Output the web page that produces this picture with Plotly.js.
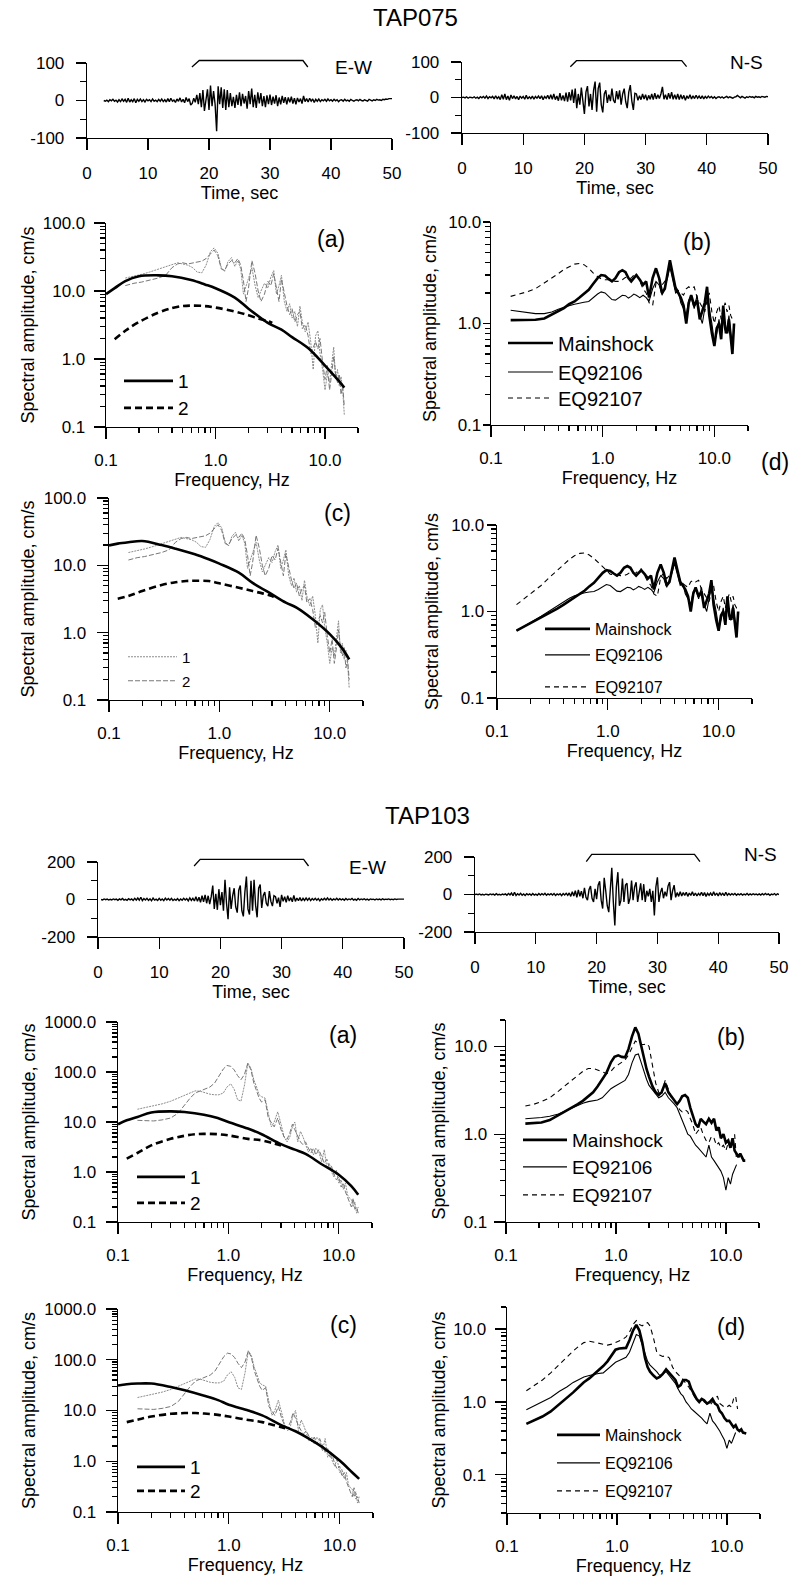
<!DOCTYPE html>
<html><head><meta charset="utf-8">
<script src="https://cdn.plot.ly/plotly-3.0.1.min.js"></script>
<style>html,body{margin:0;padding:0;background:#fff;}#chart{width:790px;height:1576px;}</style>
</head><body><div id="chart"></div>
<script>
// ================= DATA =================
// Time histories (velocity), sampled every 0.25 s
const dtSec = 0.25;
const ew075Start = 2.75;
const ew075 = [0,-2,1,-3,2,-1,3,-2,1,-4,
 2,-3,4,-2,3,-5,6,-4,2,-3,
 5,-6,3,-2,4,-3,2,-4,3,-1,
 2,-3,4,-2,1,-3,3,-2,4,-3,
 2,-4,5,-3,6,-2,1,-5,4,-2,
 7,-4,3,-6,8,-3,5,-12,-8,6,
 -5,15,-10,20,-18,28,-28,10,30,-25,
 40,-15,25,-10,-82,38,-10,35,-20,30,
 -25,28,-18,20,-15,10,-20,15,-12,22,
 -15,18,-8,12,-22,25,-10,32,-18,15,
 -20,22,-8,20,-15,12,-18,14,-10,16,
 -12,10,-8,14,-15,8,-10,12,-6,9,
 -10,8,-5,10,-8,6,-10,7,-4,5,
 -8,12,-3,5,-4,6,-2,4,-5,3,
 -2,4,-3,2,-1,3,-2,4,-1,2,
 -2,3,-1,2,-3,1,2,-2,3,-1,
 1,-2,3,0,-2,1,2,-1,3,0,
 -1,2,1,-2,3,1,-1,2,0,3,
 1,2,0,3,2,4,3,5,4,5];
const ns075Start = 0;
const ns075 = [0,1,-1,2,-2,1,0,-1,2,-2,
 1,-3,2,-1,3,-2,4,-3,2,-1,
 3,-4,5,-3,2,-6,8,-5,10,-6,
 4,-8,7,-3,5,-4,3,-6,4,-2,
 3,-5,6,-4,2,-3,4,-5,3,-2,
 4,-3,5,-6,3,-2,6,-4,8,-5,
 10,-6,4,-9,12,-8,6,-10,14,-12,
 15,-8,22,-15,25,-30,10,-20,28,-18,
 -46,15,32,-25,10,-35,20,45,-40,25,
 42,-20,-42,10,20,-15,8,-10,25,-8,
 -15,18,-5,20,-20,10,25,-12,-30,15,
 35,-10,-35,12,10,-8,5,-6,10,-4,
 8,-8,6,-5,10,-6,12,-4,8,-3,
 10,30,-5,8,-6,12,-3,15,-5,8,
 -5,10,-6,8,-4,6,-8,5,-3,8,
 -4,5,-3,6,-2,4,-3,5,-4,3,
 -2,4,-1,3,-2,2,-3,1,2,-1,
 2,-2,1,3,-1,2,0,-2,1,2,
 6,2,-1,3,1,-2,2,0,3,1,
 2,-1,3,1,2,0,3,2,1,3,
 2];
const ew103Start = 0.5;
const ew103 = [0,-2,3,-1,2,-3,1,-2,3,-1,
 2,-4,3,-2,5,-3,1,-4,4,-2,
 3,-5,6,-3,8,-4,12,-6,5,-3,
 6,-5,4,-7,8,-3,2,-5,6,-4,
 3,-6,7,-3,5,-4,6,-5,2,-4,
 5,-6,3,-4,6,-3,5,-7,8,-5,
 6,-8,15,-10,12,-15,20,-12,25,-20,
 20,-25,15,74,-50,30,-55,55,-30,40,
 -60,105,-20,-105,65,-50,20,60,-40,-70,
 50,75,-60,-90,40,122,-50,-80,100,-60,
 105,-30,-95,60,80,-45,20,40,-20,-35,
 45,-10,-35,20,15,-20,10,-40,25,-10,
 15,-15,20,-8,10,-12,22,-10,8,-6,
 10,-8,6,-5,8,-4,7,-6,5,-3,
 6,-4,5,-7,4,-3,6,-2,8,-3,
 5,-4,3,-2,6,-3,4,-2,3,-4,
 5,-2,3,-1,6,-3,2,-4,5,-2,
 3,-1,4,-2,2,-3,3,0,2,-2,
 3,-1,2,-2,4,-1,2,0,3,-1,
 2,-1,3,0,2,1,3,1,2];
const ns103Start = 0;
const ns103 = [0,2,-1,3,-2,1,-3,2,0,-2,
 3,-1,2,-3,4,-2,1,-3,2,-1,
 3,-4,5,-2,8,-6,12,-5,4,-3,
 6,-4,3,-5,4,-2,3,-4,5,-3,
 2,-4,5,-3,4,-2,6,-4,3,-2,
 4,-3,5,-5,3,-2,4,-6,5,-3,
 6,-4,8,-10,15,-8,20,-15,25,-10,
 18,-20,35,-15,-30,25,45,-20,-40,30,
 -25,50,70,-30,-75,89,20,-60,-94,60,
 142,-40,-165,40,119,-60,-30,85,-40,50,
 60,-50,-20,75,-30,40,65,-40,10,60,
 -30,55,-40,20,-10,30,-40,20,-112,40,
 92,-40,10,35,-20,15,-10,45,66,-30,
 20,50,-15,10,-10,15,-8,10,-5,12,
 -10,8,-5,15,-6,8,-8,6,-4,12,
 -6,10,-10,6,-4,8,-6,15,-5,8,
 -8,10,-3,6,-6,12,-4,5,-3,4,
 -2,5,-4,3,-2,4,-3,2,-2,5,
 -3,3,-2,4,-1,2,-2,3,-3,4,
 -2,6,-1,3,-4,2,-1,5,-3,4,
 0];
// analysed-window brackets (s): start, plateau start, plateau end, end
const brk075EW = [17.2, 18.4, 35.4, 36.2];
const brk075NS = [17.7, 18.7, 35.9, 36.7];
const brk103EW = [15.7, 16.7, 33.6, 34.4];
const brk103NS = [18.3, 19.2, 36.1, 37.0];
const brkLevel = [0, 1, 1, 0];

// Frequencies (Hz) of observed spectra
const fN = [0.15,0.18,0.21,0.25,0.3,
 0.35,0.4,0.45,0.5,0.56,
 0.62,0.68,0.75,0.82,0.9,
 0.97,1.05,1.13,1.21,1.3,
 1.4,1.5,1.6,1.7,1.8,
 1.9,2.0,2.15,2.3,2.45,
 2.6,2.8,3.0,3.2,3.4,
 3.6,3.8,4.0,4.25,4.5,
 4.75,5.0,5.3,5.6,5.9,
 6.2,6.6,7.0,7.4,7.8,
 8.2,8.6,9.0,9.5,10.0,
 10.5,11.0,11.5,12.0,12.5,
 13.0,13.5,14.0,14.5,15.0];
// Frequencies for smooth model curves
const fS = [0.1,0.12,0.15,0.2,0.3,0.4,0.6,0.8,1.0,1.5,2.0,3.0,4.0,5.0,7.0,10.0,13.0,15.0];
const fD = [0.12,0.15,0.2,0.3,0.4,0.5,0.6,0.8,1.0,1.5,2.0,2.5,3.0,3.3];

// ---- TAP075 ----
const obs075_1 = [15.5,16.5,17.5,19,21,
 23,25,26,25,24,
 22,19,18.5,24,38,
 43,36,22,19.5,27,
 31,23,28,21,9,
 12,15,22,12,8,
 10,13,11,16,20,
 9,12,17,7,5,
 6.5,4,5,3,6,
 3.5,2.5,3.5,1.8,0.7,
 2.2,2.6,1.2,0.7,0.35,
 0.6,0.45,0.8,1.5,0.5,
 0.7,0.4,0.55,0.35,0.15];
const obs075_2 = [12,13,13.5,14.5,15.5,
 17,22,25,26,25,
 26,27,27.5,30,35,
 40,33,21,20,25,
 28,26,30,24,14,
 7,11,28,18,10,
 7,9,14,12,18,
 11,7,15,9,6,
 4.5,5.5,3.5,4.5,5,
 2.8,3.2,2.2,1.2,1.5,
 1.8,1.4,2.0,0.9,0.5,
 0.8,0.35,0.6,1.1,0.6,
 0.45,0.6,0.3,0.4,0.2];
const model075a_1 = [9,11,14,16.5,17,16.5,14.5,12.5,11,8,5.5,3.4,2.7,2.1,1.45,0.8,0.5,0.38];
const model075a_2 = [1.95,2.6,3.5,4.8,5.6,6.0,6.1,6.0,5.7,5.0,4.4,3.9,3.6,3.4];
const model075c_1 = [19.8,21,22,23,20,17.7,14.6,12.3,10.6,7.8,5.5,3.7,2.8,2.35,1.58,0.95,0.58,0.4];
const model075c_2 = [3.2,3.5,4.15,5.1,5.6,5.85,5.9,5.85,5.4,4.65,4.15,3.8,3.5,3.2];
const main075b = [1.08,1.08,1.08,1.09,1.12,
 1.22,1.32,1.42,1.55,1.65,
 1.8,1.95,2.15,2.45,2.8,
 3.0,2.95,2.75,2.6,2.8,
 3.2,3.35,3.2,2.8,2.6,
 2.8,3.0,2.7,2.4,2.6,
 1.8,2.8,3.5,2.8,2.0,
 2.2,3.2,4.2,3.0,2.2,
 2.0,1.8,1.5,1.0,1.6,
 1.9,1.5,1.7,1.1,1.3,
 1.6,2.3,1.2,0.8,0.6,
 0.9,1.0,0.7,1.5,0.9,
 0.8,1.1,0.7,0.5,1.0];
const eq106_075b = [1.35,1.32,1.28,1.25,1.25,
 1.3,1.38,1.45,1.5,1.55,
 1.6,1.62,1.65,1.8,1.95,
 2.05,2.0,1.85,1.72,1.7,
 1.8,1.9,1.88,1.78,1.85,
 1.95,1.9,1.8,1.9,1.8,
 1.65,2.2,2.6,2.4,1.9,
 2.3,2.8,3.6,2.6,2.0,
 2.1,1.6,1.4,1.2,1.7,
 1.8,1.4,1.9,1.2,1.0,
 1.4,2.0,1.4,1.0,0.65,
 0.8,1.1,0.75,1.3,0.8,
 0.9,1.2,0.8,0.6,0.9];
const eq107_075b = [1.85,1.95,2.05,2.2,2.5,
 2.8,3.1,3.4,3.6,3.85,
 3.9,3.8,3.5,3.15,2.9,
 2.75,2.7,2.7,2.65,2.6,
 2.6,2.7,2.85,2.75,2.8,
 3.0,3.1,2.6,2.2,2.0,
 1.6,1.5,2.5,2.8,2.4,
 2.6,3.0,3.8,2.8,2.3,
 2.1,2.0,1.9,2.2,2.3,
 2.2,2.3,1.8,1.6,1.4,
 1.3,1.7,2.0,1.3,1.0,
 1.3,1.5,1.1,1.4,1.6,
 1.3,1.5,1.2,1.1,1.1];
// (d) differs from (b) only below ~1 Hz (first 16 frequencies)
const main075dLow = [0.6,0.68,0.76,0.85,0.95,1.08,1.2,1.32,1.45,1.6,1.75,1.95,2.15,2.45,2.8,3.0];
const eq106_075dLow = [0.6,0.68,0.77,0.88,1.02,1.15,1.3,1.42,1.52,1.6,1.65,1.68,1.7,1.8,1.95,2.05];
const eq107_075dLow = [1.2,1.45,1.7,2.0,2.5,3.0,3.5,4.0,4.4,4.7,4.75,4.5,4.1,3.7,3.3,3.0];

// ---- TAP103 ----
const obs103_1 = [18,19.5,21,23,26,
 30,33,37,42,41,
 38,36,35,35,38,
 50,58,45,28,26,
 55,150,120,70,50,
 35,32,30,15,8,
 10,16,9,5,4,
 5,8,10,4,6.5,
 5,3.5,2.5,3,2.2,
 3,2.5,1.6,2.8,1.2,
 1.5,1.0,0.8,1.1,0.6,
 0.7,0.45,0.6,0.35,0.3,
 0.28,0.2,0.25,0.15,0.2];
const obs103_2 = [10.8,10.5,10.5,11,12,
 15,22,30,38,42,
 45,50,60,85,115,
 135,130,110,85,70,
 90,150,110,60,40,
 30,25,28,12,10,
 8,12,7,5,4.5,
 6,9,7,5,4,
 3.5,4,3,2.4,3,
 2.2,2.8,2,1.5,1.8,
 1.2,1.3,0.9,0.7,0.8,
 0.5,0.6,0.4,0.3,0.25,
 0.2,0.3,0.18,0.2,0.15];
const model103a_1 = [9.0,10.8,12.6,15.5,16.3,15.8,14.0,12,10,7.4,5.7,3.6,2.8,2.3,1.43,0.88,0.52,0.35];
const model103a_2 = [1.85,2.4,3.4,4.6,5.3,5.7,5.8,5.7,5.4,4.6,4.3,3.8,3.4,null];
const model103c_1 = [31,33,34,34,29,25,19.5,16,13,10,8,5.1,3.9,3.0,1.9,1.03,0.6,0.45];
const model103c_2 = [5.9,6.6,7.6,8.6,8.9,8.9,8.7,8.2,7.6,6.5,5.9,5.2,4.7,4.4];
const main103b = [1.32,1.33,1.36,1.45,1.65,
 1.8,2.0,2.2,2.4,2.7,
 3.0,3.5,4.2,5.0,6.6,
 7.6,7.9,7.6,7.5,9.3,
 13,16.5,14,10,7,
 5.5,4.5,3.5,3.0,2.8,
 3.0,3.8,3.0,2.7,2.4,
 2.2,2.4,2.7,2.8,2.6,
 2.0,1.6,1.3,1.2,1.5,
 1.4,1.3,1.5,1.35,1.5,
 1.1,1.2,0.9,1.0,0.8,
 0.85,0.7,0.9,0.65,0.6,
 0.55,0.6,0.55,0.5,0.5];
const eq106_103b = [1.5,1.52,1.55,1.6,1.7,
 1.85,2.0,2.15,2.25,2.35,
 2.4,2.45,2.6,2.9,3.3,
 3.5,3.7,3.9,4.1,4.8,
 6.5,8.0,8.2,6.5,5.0,
 4.2,3.6,3.2,2.8,2.6,
 2.7,3.0,2.6,2.4,2.2,
 2.0,1.7,1.5,1.2,1.0,
 0.95,0.85,0.75,0.7,0.65,
 0.6,0.55,0.75,0.55,0.5,
 0.45,0.42,0.38,0.32,0.23,
 0.32,0.27,0.35,0.4,0.45,
 null,null,null,null,null];
const eq107_103b = [2.1,2.2,2.35,2.6,3.1,
 3.6,4.2,4.7,5.2,5.6,
 5.6,5.4,5.1,4.9,5.2,
 5.8,6.2,6.6,7.0,8.0,
 9.5,11.5,11.0,10.5,10.5,
 10.8,10.0,6.0,3.8,3.0,
 2.8,4.1,3.2,2.6,2.4,
 2.2,1.9,1.8,1.9,1.8,
 1.5,1.3,1.0,1.1,1.2,
 1.0,0.85,0.8,0.95,0.9,
 0.75,0.8,0.7,0.75,0.65,
 0.8,0.7,0.85,1.0,0.5,
 null,null,null,null,null];
const main103d = [0.5,0.56,0.63,0.74,0.93,
 1.12,1.35,1.6,1.86,2.1,
 2.4,2.7,3.1,3.6,4.4,
 5.2,5.4,5.5,5.5,7.0,
 9.5,11.4,9.5,6.5,4.0,
 3.0,2.6,2.3,2.1,2.2,
 2.4,2.8,2.5,2.2,2.0,
 1.6,1.7,2.0,2.0,1.9,
 1.5,1.3,1.1,1.0,1.1,
 1.05,0.95,1.0,1.1,0.95,
 0.9,0.75,0.7,0.6,0.55,
 0.55,0.5,0.45,0.48,0.42,
 0.4,0.42,0.38,0.37,0.37];
const eq106_103d = [0.78,0.9,1.0,1.15,1.4,
 1.6,1.85,2.05,2.2,2.3,
 2.4,2.45,2.5,2.8,3.2,
 3.5,3.7,3.9,4.1,4.8,
 6.5,8.4,8.0,6.0,4.5,
 3.6,3.2,2.9,2.6,2.3,
 2.4,2.6,2.3,2.0,1.8,
 1.5,1.3,1.2,1.0,0.9,
 0.8,0.75,0.7,0.65,0.6,
 0.55,0.5,0.7,0.55,0.5,
 0.45,0.4,0.35,0.3,0.23,
 0.3,0.27,0.33,0.38,null,
 null,null,null,null,null];
const eq107_103d = [1.42,1.7,2.0,2.5,3.3,
 4.1,5.0,5.8,6.5,6.8,
 6.6,6.3,6.1,6.0,6.2,
 6.5,6.8,7.2,7.8,9.0,
 11.5,13.0,11.5,11.0,12.0,
 12.2,11.0,7.5,4.8,4.4,
 4.2,4.3,4.0,3.0,2.6,
 2.4,2.2,2.0,1.8,1.6,
 1.4,1.2,1.05,1.0,1.1,
 1.0,0.95,0.9,1.0,1.1,
 1.2,0.95,0.9,0.85,0.85,
 0.9,0.85,1.1,1.2,0.8,
 null,null,null,null,null];

// Legend labels
const modelNames = ['1','2'];
const eventNames = ['Mainshock','EQ92106','EQ92107'];

// ================= CHART =================
const W = 790, H = 1576;
const FONT = '"Liberation Sans", Arial, Helvetica, sans-serif';
const xd = (a,b) => [a/W, b/W];
const yd = (t,b) => [1-b/H, 1-t/H];
const ax = n => (n===1 ? '' : String(n));

const layout = {
  width: W, height: H, margin: {l:0,r:0,t:0,b:0},
  paper_bgcolor: '#fff', plot_bgcolor: 'rgba(0,0,0,0)',
  font: {family: FONT, color: '#000', size: 17},
  showlegend: true, hovermode: false, dragmode: false,
  annotations: []
};
const traces = [];

const baseAxis = {
  showline: true, linecolor: '#000', linewidth: 1.3, mirror: false,
  ticks: 'outside', tickcolor: '#000', tickwidth: 1.2,
  showgrid: false, zeroline: false, fixedrange: true,
  tickfont: {family: FONT, size: 17, color: '#000'}
};
// tick-only axis pair sharing a panel's domain (draws the long major ticks)
function tickOnly(k, xdom, ydom, xo, yo) {
  const common = {showline:false, showgrid:false, zeroline:false, showticklabels:false, fixedrange:true,
    ticks:'outside', tickcolor:'#000', tickwidth:1.2};
  layout['xaxis'+k] = Object.assign({}, common, {domain:xdom, anchor:'y'+k}, xo);
  layout['yaxis'+k] = Object.assign({}, common, {domain:ydom, anchor:'x'+k}, yo);
  traces.push({type:'scatter', mode:'lines', x:[], y:[], xaxis:'x'+k, yaxis:'y'+k, showlegend:false, hoverinfo:'skip'});
}

// ---- time-history panels ----
const tsPanels = [
  {n:1, x:[87,392], y:[63,138], lim:100, y0:ew075Start, v:ew075},
  {n:2, x:[462,768], y:[62,133], lim:100, y0:ns075Start, v:ns075},
  {n:3, x:[98,404], y:[862,937], lim:200, y0:ew103Start, v:ew103},
  {n:4, x:[475,779], y:[857,932], lim:200, y0:ns103Start, v:ns103}
];
tsPanels.forEach(p => {
  const xdom = xd(p.x[0],p.x[1]), ydom = yd(p.y[0],p.y[1]);
  layout['xaxis'+ax(p.n)] = Object.assign({}, baseAxis, {
    domain: xdom, anchor: 'y'+ax(p.n), range: [0,50],
    tickmode: 'linear', tick0: 0, dtick: 10, ticklen: 11, ticklabelstandoff: 8,
    title: {text: 'Time, sec', font: {family: FONT, size: 18, color:'#000'}, standoff: 3}
  });
  const L = p.lim;
  layout['yaxis'+ax(p.n)] = Object.assign({}, baseAxis, {
    domain: ydom, anchor: 'x'+ax(p.n), range: [-L, L],
    tickmode: 'array', tickvals: [-L,-L/2,0,L/2,L], ticktext: ['-'+L,'','0','',String(L)],
    ticklen: 6, ticklabelstandoff: 12
  });
  traces.push({type:'scatter', mode:'lines', x0: p.y0, dx: dtSec, y: p.v,
    xaxis:'x'+ax(p.n), yaxis:'y'+ax(p.n), line:{color:'#000', width:1.4}, showlegend:false, hoverinfo:'skip'});
  tickOnly(16+p.n, xdom, ydom, {range:[0,50], ticks:''},
    {range:[-L,L], tickmode:'array', tickvals:[-L,0,L], ticklen:10});
});

// ---- window brackets (own invisible axes) ----
const brPanels = [
  {n:13, x:[87,392], t:60.5, b:67, v:brk075EW},
  {n:14, x:[462,768], t:60.7, b:66.7, v:brk075NS},
  {n:15, x:[98,404], t:859.3, b:866, v:brk103EW},
  {n:16, x:[475,779], t:854.3, b:861.7, v:brk103NS}
];
brPanels.forEach(p => {
  const u = p.b - p.t;
  layout['xaxis'+p.n] = {domain: xd(p.x[0],p.x[1]), anchor:'y'+p.n, range:[0,50], visible:false, fixedrange:true};
  layout['yaxis'+p.n] = {domain: yd(p.t-0.3*u, p.b+0.3*u), anchor:'x'+p.n, range:[-0.3,1.3], visible:false, fixedrange:true};
  traces.push({type:'scatter', mode:'lines', x:p.v, y:brkLevel, xaxis:'x'+p.n, yaxis:'y'+p.n,
    line:{color:'#000', width:1.3}, showlegend:false, hoverinfo:'skip'});
});

// ---- spectral panels ----
function decades(lo, hi){ const out=[]; for(let e=-3;e<=4;e++){const v=Math.pow(10,e); if(v>=lo*0.999 && v<=hi*1.001) out.push(+v.toPrecision(3));} return out; }
function allLogTicks(lo, hi){ const out=[]; for(let e=-3;e<=4;e++) for(let m=1;m<=9;m++){ const v=+(m*Math.pow(10,e)).toPrecision(3); if(v>=lo*0.999 && v<=hi*1.001) out.push(v);} return out; }
function fmt(v){ return v>=1 ? v.toFixed(1) : String(v); }
function logLabels(vals){ const maj = new Set(decades(1e-3,1e4)); return vals.map(v => maj.has(v) ? fmt(v) : ''); }

// yGap: distance axis -> label edge; yMaj: major tick length; yts: title standoff
const spPanels = [
  {n:5,  x:[106,358], y:[223,427],  yr:[0.1,100],  yGap:20, yMaj:11, yts:3},
  {n:6,  x:[491,748], y:[222,425],  yr:[0.1,10],   yGap:9,  yMaj:7,  yts:7},
  {n:7,  x:[109,363], y:[498,700],  yr:[0.1,100],  yGap:22, yMaj:11, yts:4},
  {n:8,  x:[497,752], y:[525,698],  yr:[0.1,10],   yGap:12, yMaj:9,  yts:8},
  {n:9,  x:[118,372], y:[1022,1222],yr:[0.1,1000], yGap:21, yMaj:11, yts:4},
  {n:10, x:[506,759], y:[1020,1222],yr:[0.1,20],   yGap:18, yMaj:11, yts:4},
  {n:11, x:[118,373], y:[1309,1512],yr:[0.1,1000], yGap:21, yMaj:11, yts:4},
  {n:12, x:[507,760], y:[1307,1513],yr:[0.03,20],  yGap:20, yMaj:11, yts:3}
];
spPanels.forEach(p => {
  const xdom = xd(p.x[0],p.x[1]), ydom = yd(p.y[0],p.y[1]);
  const xr = [-1, Math.log10(20)], yr = [Math.log10(p.yr[0]), Math.log10(p.yr[1])];
  const xt = allLogTicks(0.1,20), yt = allLogTicks(p.yr[0], p.yr[1]);
  layout['xaxis'+p.n] = Object.assign({}, baseAxis, {
    domain: xdom, anchor:'y'+p.n, type:'log', range: xr,
    tickmode:'array', tickvals: xt, ticktext: logLabels(xt), ticklen:5, ticklabelstandoff:12,
    title: {text:'Frequency, Hz', font:{family:FONT, size:18, color:'#000'}, standoff: 4}
  });
  layout['yaxis'+p.n] = Object.assign({}, baseAxis, {
    domain: ydom, anchor:'x'+p.n, type:'log', range: yr,
    tickmode:'array', tickvals: yt, ticktext: logLabels(yt), ticklen:5, ticklabelstandoff: Math.max(0, p.yGap-9),
    title: {text:'Spectral amplitude, cm/s', font:{family:FONT, size:18, color:'#000'}, standoff: p.yts}
  });
  tickOnly(16+p.n, xdom, ydom,
    {type:'log', range:xr, tickmode:'array', tickvals: decades(0.1,20), ticklen:11},
    {type:'log', range:yr, tickmode:'array', tickvals: decades(p.yr[0],p.yr[1]), ticklen:p.yMaj});
});

const THICK = {color:'#000', width:2.6};
const THICKDASH = {color:'#000', width:2.6, dash:'7px,4px'};
const THIN = {color:'#000', width:1.1};
const THINDASH = {color:'#000', width:1.1, dash:'5px,4px'};
const GRAY1 = {color:'#8c8c8c', width:1, dash:'2px,1px'};
const GRAY2 = {color:'#777', width:1, dash:'5px,2px'};

let legCount = 0;
function line(n, x, y, style, name, opts) {
  const t = {type:'scatter', mode:'lines', x:x, y:y, xaxis:'x'+n, yaxis:'y'+n, line:Object.assign({}, style),
    hoverinfo:'skip', showlegend:false, connectgaps:false};
  if (opts && opts.spline) t.line.shape = 'spline';
  if (name !== null) { legCount++; t.showlegend = true; t.name = name; t.legend = 'legend'+ax(legCount); }
  traces.push(t);
}
const d075 = (low, full) => low.concat(full.slice(low.length));

// top (a)
line(5, fN, obs075_1, GRAY1, null); line(5, fN, obs075_2, GRAY2, null);
line(5, fS, model075a_1, THICK, modelNames[0], {spline:true});
line(5, fD, model075a_2, THICKDASH, modelNames[1], {spline:true});
// top (b)
line(6, fN, main075b, THICK, eventNames[0]);
line(6, fN, eq106_075b, THIN, eventNames[1]);
line(6, fN, eq107_075b, THINDASH, eventNames[2]);
// top (c)
line(7, fN, obs075_1, GRAY1, modelNames[0]); line(7, fN, obs075_2, GRAY2, modelNames[1]);
line(7, fS, model075c_1, THICK, null, {spline:true});
line(7, fD, model075c_2, THICKDASH, null, {spline:true});
// top (d)
line(8, fN, d075(main075dLow, main075b), THICK, eventNames[0]);
line(8, fN, d075(eq106_075dLow, eq106_075b), THIN, eventNames[1]);
line(8, fN, d075(eq107_075dLow, eq107_075b), THINDASH, eventNames[2]);
// bottom (a)
line(9, fN, obs103_1, GRAY1, null); line(9, fN, obs103_2, GRAY2, null);
line(9, fS, model103a_1, THICK, modelNames[0], {spline:true});
line(9, fD, model103a_2, THICKDASH, modelNames[1], {spline:true});
// bottom (b)
line(10, fN, main103b, THICK, eventNames[0]);
line(10, fN, eq106_103b, THIN, eventNames[1]);
line(10, fN, eq107_103b, THINDASH, eventNames[2]);
// bottom (c)
line(11, fN, obs103_1, GRAY1, null); line(11, fN, obs103_2, GRAY2, null);
line(11, fS, model103c_1, THICK, modelNames[0], {spline:true});
line(11, fD, model103c_2, THICKDASH, modelNames[1], {spline:true});
// bottom (d)
line(12, fN, main103d, THICK, eventNames[0]);
line(12, fN, eq106_103d, THIN, eventNames[1]);
line(12, fN, eq107_103d, THINDASH, eventNames[2]);

// legend placement: [line start x, centre y, font size, line length]
const legendPos = [
 [124,381,19,49],[124,408,19,49],
 [508,343,20,45],[508,372,20,45],[508,398,20,45],
 [128,657,15,49],[128,681,15,49],
 [545,629,16,45],[545,655,16,45],[545,687,16,45],
 [137,1177,19,48],[137,1203,19,48],
 [523,1140,19,44],[523,1167,19,44],[523,1195,19,44],
 [137,1467,19,48],[137,1491,19,48],
 [557,1435,16,43],[557,1463,16,43],[557,1491,16,43]
];
legendPos.forEach((p,i) => {
  layout['legend'+ax(i+1)] = {x:(p[0]-5)/W, y:1-p[1]/H, xref:'paper', yref:'paper', xanchor:'left', yanchor:'middle',
    bgcolor:'rgba(0,0,0,0)', borderwidth:0, font:{family:FONT, size:p[2], color:'#000'}, itemwidth:p[3],
    tracegroupgap:0, orientation:'v'};
});

// text labels
function note(text, px, py, size) {
  layout.annotations.push({text:text, x:px/W, y:1-py/H, xref:'paper', yref:'paper', xanchor:'center', yanchor:'middle',
    showarrow:false, font:{family:FONT, size:size, color:'#000'}});
}
note('TAP075', 415, 17, 24); note('TAP103', 427, 815, 24);
note('E-W', 353, 68, 19); note('N-S', 746, 63, 19); note('E-W', 367, 867, 19); note('N-S', 760, 855, 19);
[['(a)',331,239],['(b)',697,242],['(c)',337,513],['(d)',775,462],
 ['(a)',343,1035],['(b)',731,1037],['(c)',343,1325],['(d)',731,1327]].forEach(a => note(a[0], a[1], a[2], 23));

Plotly.newPlot('chart', traces, layout, {staticPlot:true, displayModeBar:false});
</script></body></html>
